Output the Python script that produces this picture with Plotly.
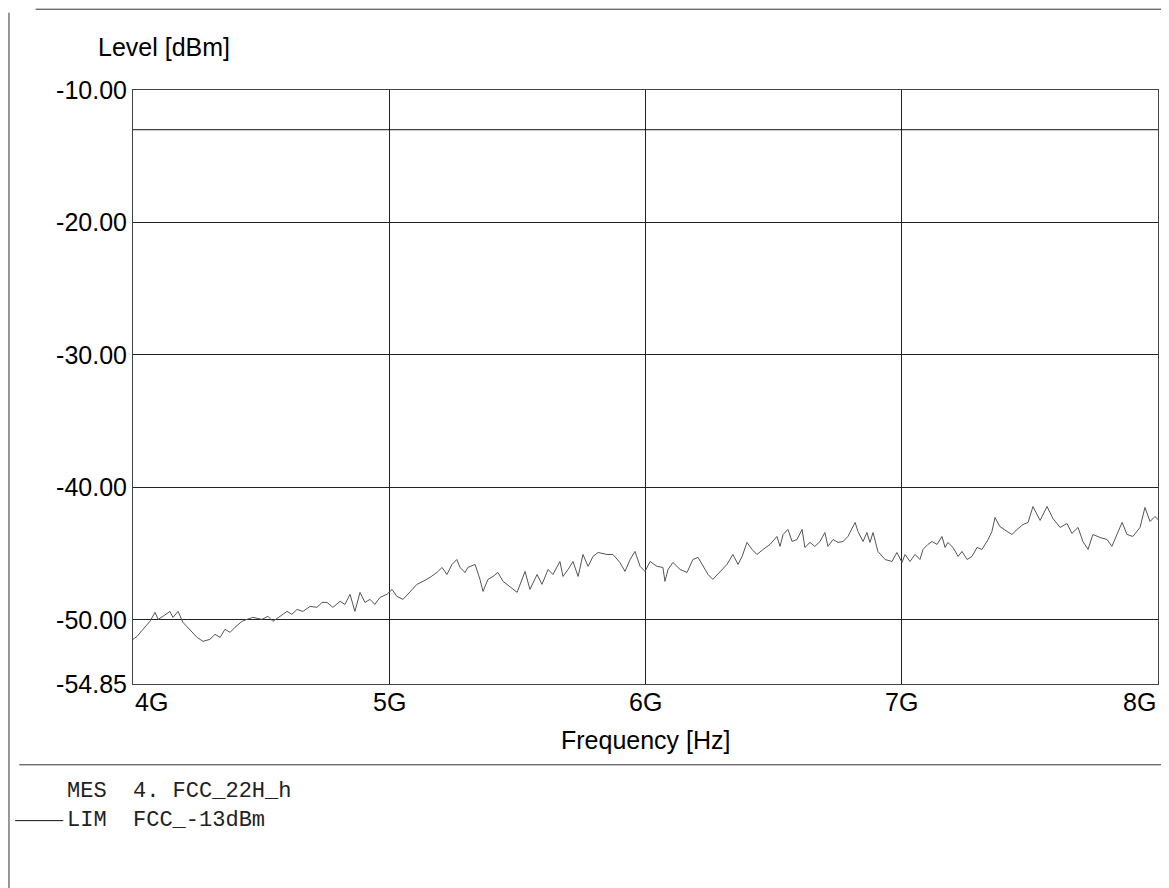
import plotly.graph_objects as go

# ---- data -------------------------------------------------------------
freq_ghz = [
    4.000, 4.016, 4.039, 4.066, 4.086, 4.098, 4.117, 4.144, 4.156, 4.176,
    4.195, 4.222, 4.250, 4.273, 4.300, 4.320, 4.340, 4.359, 4.379, 4.398,
    4.425, 4.445, 4.468, 4.503, 4.527, 4.546, 4.574, 4.601, 4.620, 4.640,
    4.663, 4.691, 4.718, 4.738, 4.757, 4.780, 4.808, 4.827, 4.847, 4.866,
    4.886, 4.905, 4.925, 4.944, 4.964, 4.991, 5.011, 5.030, 5.054, 5.081,
    5.108, 5.132, 5.159, 5.186, 5.206, 5.225, 5.245, 5.264, 5.276, 5.296,
    5.307, 5.335, 5.354, 5.366, 5.385, 5.405, 5.424, 5.444, 5.471, 5.499,
    5.530, 5.549, 5.577, 5.596, 5.620, 5.639, 5.666, 5.678, 5.698, 5.717,
    5.737, 5.756, 5.776, 5.795, 5.815, 5.850, 5.873, 5.900, 5.920, 5.940,
    5.959, 5.979, 5.998, 6.018, 6.045, 6.068, 6.076, 6.088, 6.107, 6.135,
    6.162, 6.185, 6.205, 6.224, 6.244, 6.263, 6.291, 6.318, 6.341, 6.361,
    6.377, 6.396, 6.416, 6.435, 6.459, 6.486, 6.513, 6.525, 6.537, 6.556,
    6.572, 6.591, 6.611, 6.622, 6.642, 6.661, 6.681, 6.700, 6.712, 6.732,
    6.751, 6.771, 6.790, 6.818, 6.829, 6.849, 6.864, 6.876, 6.888, 6.907,
    6.935, 6.962, 6.981, 7.001, 7.013, 7.032, 7.052, 7.071, 7.083, 7.102,
    7.118, 7.138, 7.157, 7.169, 7.180, 7.200, 7.220, 7.235, 7.255, 7.274,
    7.294, 7.313, 7.337, 7.352, 7.364, 7.383, 7.411, 7.430, 7.450, 7.473,
    7.493, 7.512, 7.540, 7.567, 7.590, 7.618, 7.645, 7.664, 7.688, 7.707,
    7.727, 7.746, 7.774, 7.801, 7.820, 7.840, 7.860, 7.879, 7.902, 7.930,
    7.949, 7.969, 7.988, 8.000,
]

level_dbm = [
    -51.48, -51.25, -50.72, -50.12, -49.44, -49.97, -49.74, -49.37, -49.82, -49.37,
    -50.20, -50.72, -51.33, -51.63, -51.48, -51.10, -51.33, -50.72, -50.95, -50.57,
    -50.12, -49.97, -49.82, -49.97, -49.74, -50.12, -49.74, -49.37, -49.59, -49.22,
    -49.37, -48.99, -49.06, -48.69, -48.69, -49.06, -48.61, -48.84, -48.08, -49.37,
    -47.93, -48.69, -48.46, -48.84, -48.31, -48.08, -47.71, -48.24, -48.46, -47.93,
    -47.33, -47.10, -46.80, -46.43, -46.05, -46.58, -45.82, -45.45, -46.05, -46.43,
    -46.05, -45.82, -46.95, -47.86, -46.95, -46.73, -46.43, -47.10, -47.48, -47.93,
    -46.35, -47.71, -46.58, -47.33, -46.20, -46.58, -45.60, -46.73, -46.20, -45.60,
    -46.73, -45.07, -45.97, -45.22, -44.92, -45.07, -45.07, -45.67, -46.35, -45.45,
    -44.84, -45.97, -46.35, -45.60, -45.97, -46.05, -47.10, -46.20, -45.67, -46.20,
    -46.43, -45.45, -45.29, -45.97, -46.58, -46.95, -46.35, -45.82, -45.07, -45.82,
    -45.22, -44.16, -44.69, -45.07, -44.69, -44.31, -43.71, -44.46, -43.56, -43.18,
    -44.09, -43.94, -43.18, -44.54, -44.16, -44.46, -44.09, -43.41, -44.46, -43.94,
    -44.16, -44.09, -43.71, -42.65, -43.33, -44.09, -43.41, -44.16, -43.41, -44.84,
    -45.45, -45.60, -44.92, -45.67, -45.07, -45.60, -45.07, -45.45, -44.69, -44.31,
    -44.09, -44.31, -43.71, -44.54, -44.16, -44.54, -45.22, -44.84, -45.45, -45.22,
    -44.54, -44.69, -43.94, -43.33, -42.28, -42.96, -43.33, -43.56, -43.18, -42.81,
    -42.65, -41.45, -42.50, -41.45, -42.35, -43.03, -42.73, -43.48, -43.03, -44.09,
    -44.69, -43.56, -43.79, -43.94, -44.46, -43.56, -42.65, -43.56, -43.71, -43.03,
    -41.52, -42.58, -42.20, -42.43,
]

limit_freq_ghz = [4.0, 8.0]
limit_level_dbm = [-13.0, -13.0]

x_tick_vals = [4, 5, 6, 7, 8]
x_tick_text = ["4G", "5G", "6G", "7G", "8G"]
y_tick_vals = [-54.85, -50, -40, -30, -20, -10]
y_tick_text = ["-54.85", "-50.00", "-40.00", "-30.00", "-20.00", "-10.00"]

legend_lines = ["MES\u00a0\u00a04.\u00a0FCC_22H_h", "LIM\u00a0\u00a0FCC_-13dBm"]

assert len(freq_ghz) == len(level_dbm)

# ---- figure -----------------------------------------------------------
SANS = "Liberation Sans, Arial, sans-serif"
MONO = "Liberation Mono, Courier New, monospace"
INK = "#222222"
FS = 25

fig = go.Figure()

fig.add_trace(go.Scatter(
    x=freq_ghz, y=level_dbm, mode="lines",
    line=dict(color="#555555", width=1),
    name="MES 4. FCC_22H_h", showlegend=False, hoverinfo="x+y",
))

fig.add_trace(go.Scatter(
    x=limit_freq_ghz, y=limit_level_dbm, mode="lines",
    line=dict(color="#111111", width=1),
    name="LIM FCC_-13dBm", showlegend=False,
))

fig.update_xaxes(
    range=[4, 8], tickvals=x_tick_vals, showticklabels=False,
    showgrid=True, gridcolor=INK, gridwidth=1, zeroline=False,
    showline=True, linecolor="#444444", linewidth=1, mirror=True,
    ticks="",
)
fig.update_yaxes(
    range=[-54.85, -10], tickvals=y_tick_vals, ticktext=y_tick_text,
    showgrid=True, gridcolor=INK, gridwidth=1, zeroline=False,
    showline=True, linecolor="#444444", linewidth=1, mirror=True,
    ticks="",
    tickfont=dict(family=SANS, size=FS, color="#000000"),
)

annotations = []
for v, t in zip(x_tick_vals, x_tick_text):
    anchor = "left" if v == x_tick_vals[0] else ("right" if v == x_tick_vals[-1] else "center")
    annotations.append(dict(
        x=v, xref="x", y=-0.030, yref="paper", text=t, showarrow=False,
        xanchor=anchor, yanchor="middle",
        font=dict(family=SANS, size=FS, color="#000000"),
    ))

annotations += [
    dict(x=6.0, xref="x", y=-0.094, yref="paper", text="Frequency [Hz]",
         showarrow=False, xanchor="center", yanchor="middle",
         font=dict(family=SANS, size=FS, color="#000000")),
    dict(x=-0.036, xref="paper", y=1.072, yref="paper", text="Level [dBm]",
         showarrow=False, xanchor="left", yanchor="middle",
         font=dict(family=SANS, size=FS, color="#000000")),
    dict(x=-0.066, xref="paper", y=-0.205, yref="paper",
         text="<br>".join(legend_lines), align="left",
         showarrow=False, xanchor="left", yanchor="middle",
         font=dict(family=MONO, size=22, color="#222222")),
]

line_style = dict(color="#333333", width=1)
shapes = [
    # page frame lines from the printed report
    dict(type="line", xref="paper", yref="paper", x0=-0.095, x1=1.011, y0=1.136, y1=1.136, line=line_style),
    dict(type="line", xref="paper", yref="paper", x0=-0.121, x1=-0.121, y0=1.130, y1=-0.345, line=line_style),
    dict(type="line", xref="paper", yref="paper", x0=-0.111, x1=1.011, y0=-0.136, y1=-0.136, line=line_style),
    # legend line sample for LIM
    dict(type="line", xref="paper", yref="paper", x0=-0.115, x1=-0.068, y0=-0.230, y1=-0.230,
         line=dict(color="#111111", width=1)),
]

# the page body adds an 8 px margin, so the figure is 8 px smaller to keep
# the plot area at the reference position
fig.update_layout(
    width=1161, height=880,
    margin=dict(l=125, r=11, t=82, b=204),
    paper_bgcolor="#ffffff", plot_bgcolor="#ffffff",
    annotations=annotations, shapes=shapes,
    showlegend=False,
)

fig.write_html("out.html")
